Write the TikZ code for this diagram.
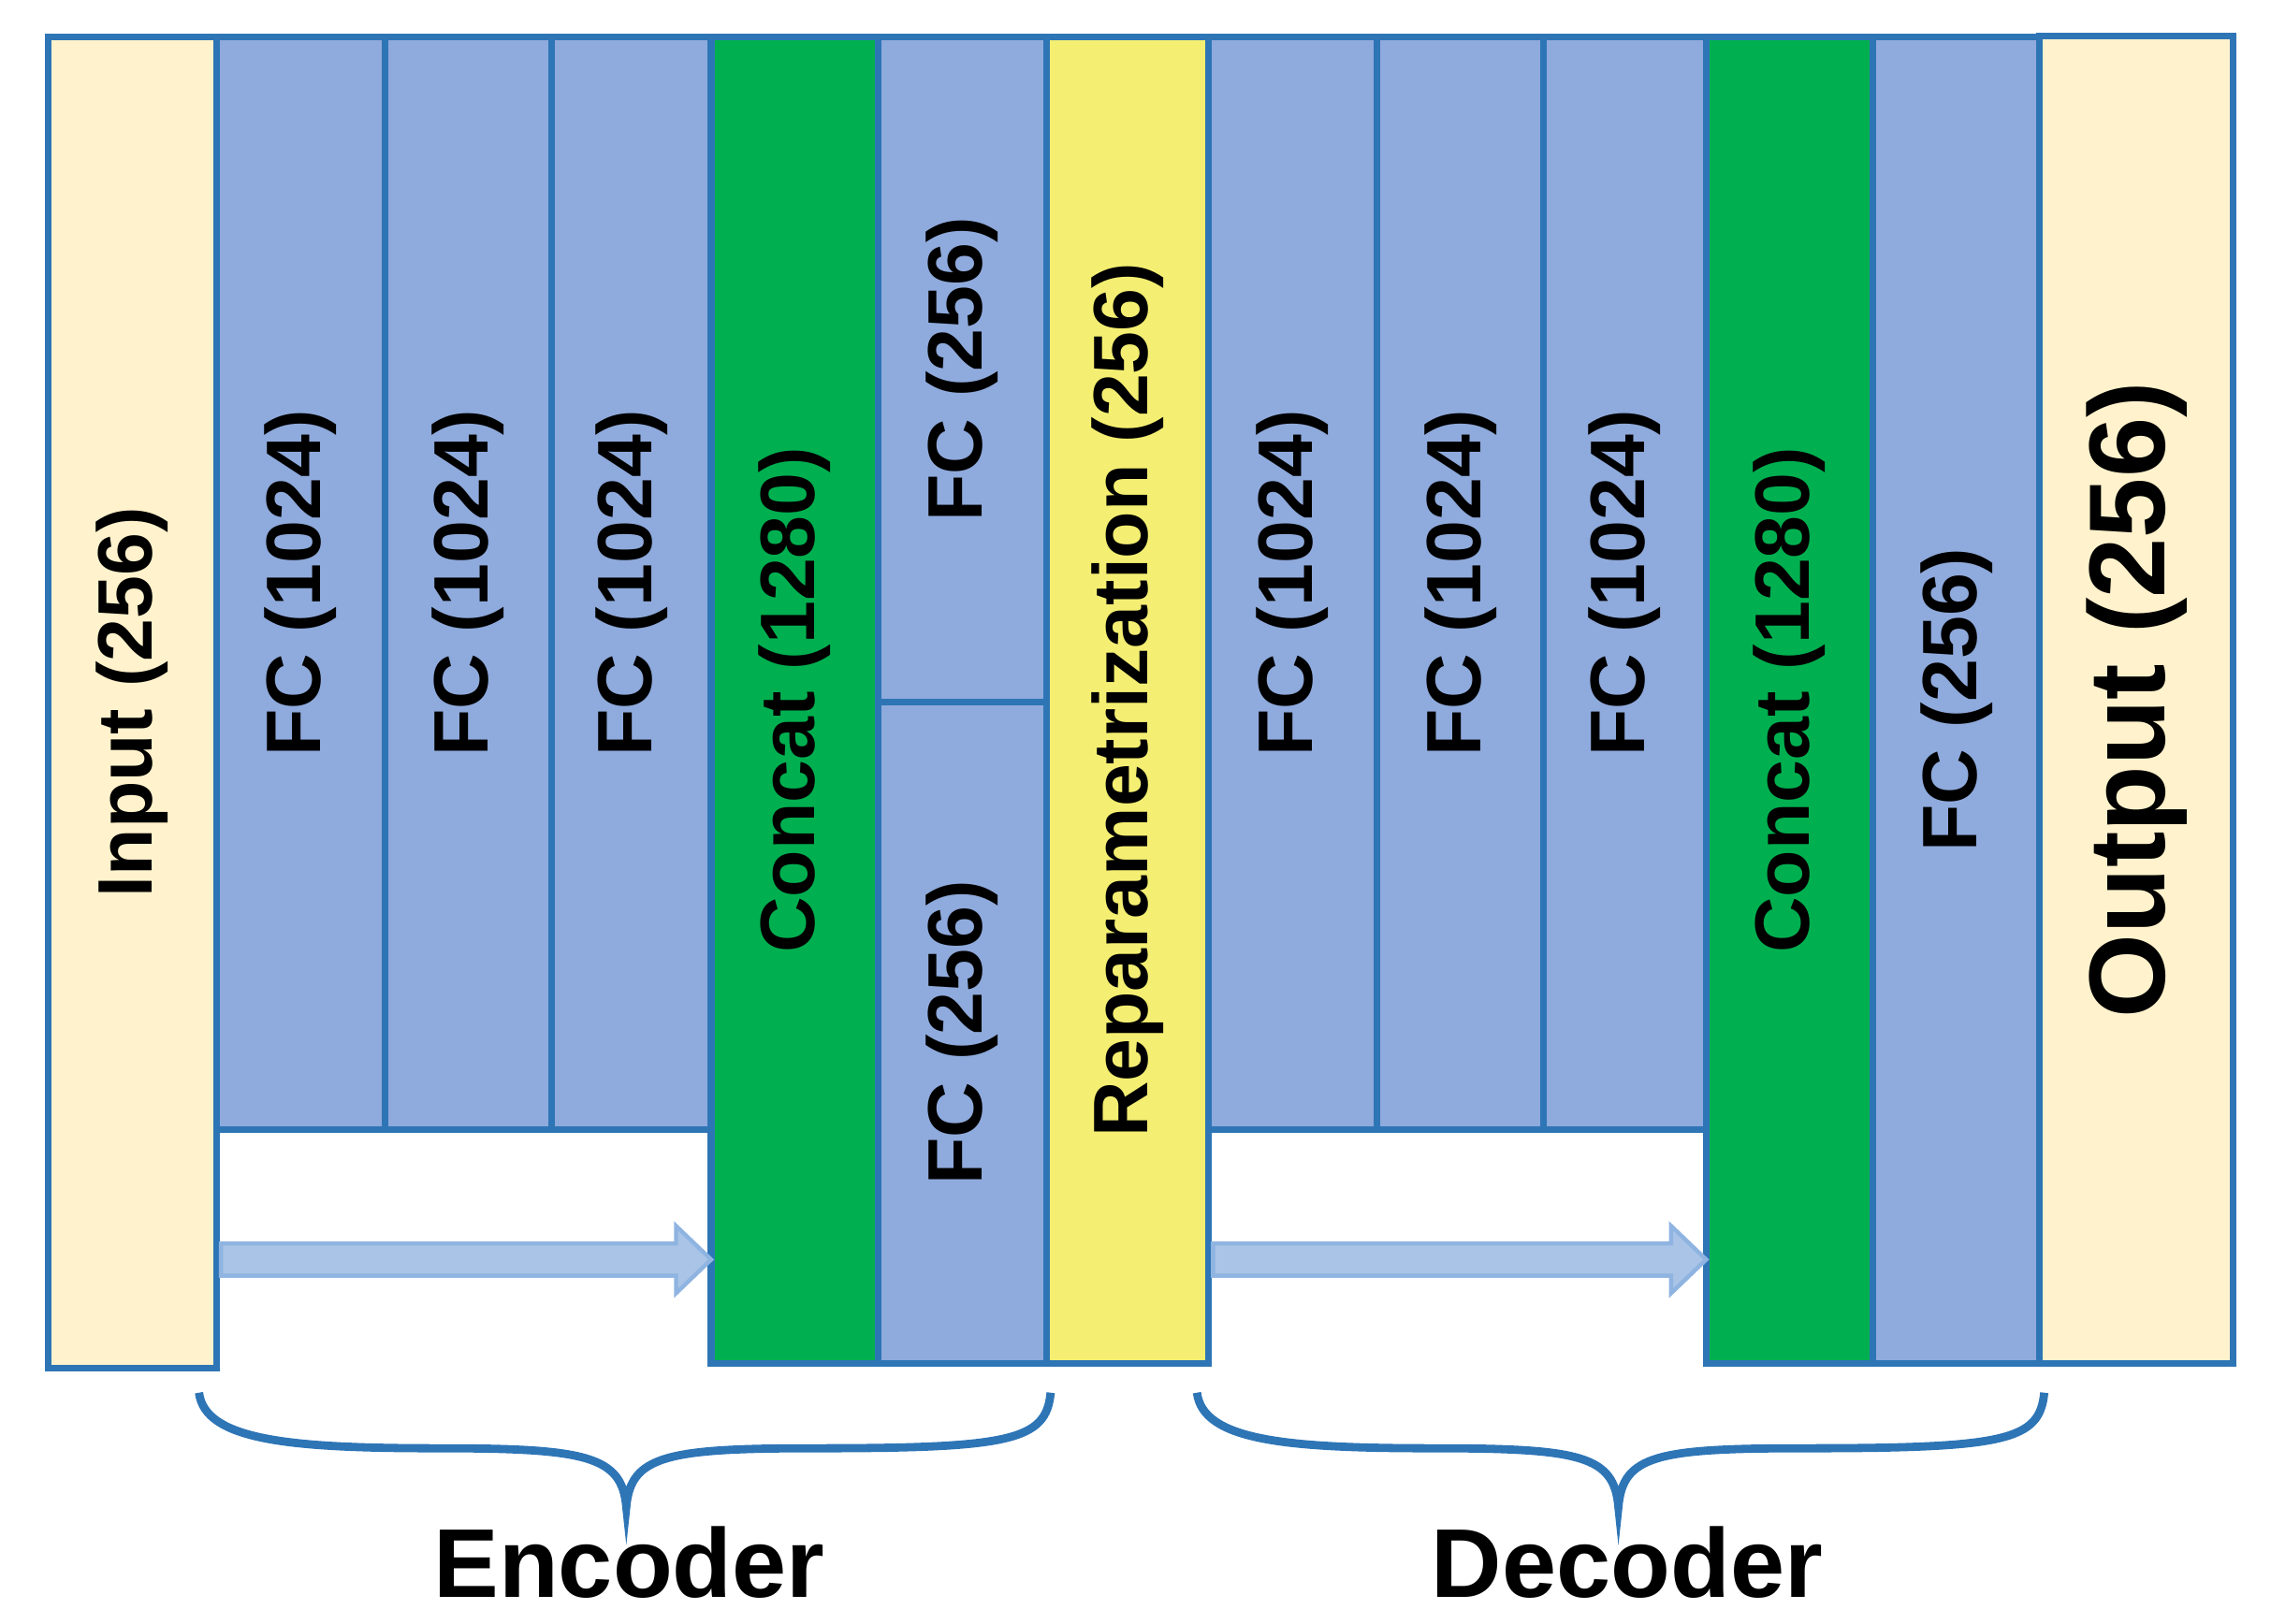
\documentclass[tikz,border=0pt]{standalone}
\usepackage{fontspec}
\setmainfont{Liberation Sans}
\begin{document}
\begin{tikzpicture}[x=0.01cm,y=-0.01cm,
  base/.style={draw=blue!45!black!60!cyan!70!black, draw={rgb,255:red,46;green,117;blue,182}, line width=1.3pt, inner sep=0pt, font=\bfseries\fontsize{15}{15}\selectfont},
  inp/.style={base, fill={rgb,255:red,255;green,242;blue,204}},
  fc/.style={base, fill={rgb,255:red,143;green,170;blue,220}},
  cat/.style={base, fill={rgb,255:red,0;green,176;blue,80}},
  rep/.style={base, fill={rgb,255:red,244;green,239;blue,114}},
  brace/.style={draw={rgb,255:red,46;green,117;blue,182}, line width=1.6pt},
  arr/.style={fill={rgb,255:red,169;green,196;blue,230}, draw={rgb,255:red,143;green,180;blue,225}, line width=0.8pt},
  lbl/.style={font=\bfseries\fontsize{19}{19}\selectfont}]
\useasboundingbox (0,0) rectangle (1552,1110);
\newcommand\blk[7]{\node[#6, minimum width={(#4-#2)*0.01cm}, minimum height={(#5-#3)*0.01cm}] (#1) at ({(#2+#4)/2},{(#3+#5)/2}) {\rotatebox{90}{#7}};}
\blk{in}{33}{25}{148}{935}{inp}{Input (256)}
\blk{f1}{148}{25}{263}{772}{fc}{FC (1024)}
\blk{f2}{263}{25}{377}{772}{fc}{FC (1024)}
\blk{f3}{377}{25}{486}{772}{fc}{FC (1024)}
\blk{c1}{486}{25}{600}{932}{cat}{Concat (1280)}
\blk{mu}{600}{25}{715}{480}{fc}{FC (256)}
\blk{sg}{600}{480}{715}{932}{fc}{FC (256)}
\blk{rp}{715}{25}{826}{932}{rep}{Reparametrization (256)}
\blk{f4}{826}{25}{941}{772}{fc}{FC (1024)}
\blk{f5}{941}{25}{1055}{772}{fc}{FC (1024)}
\blk{f6}{1055}{25}{1166}{772}{fc}{FC (1024)}
\blk{c2}{1166}{25}{1280}{932}{cat}{Concat (1280)}
\blk{f7}{1280}{25}{1394}{932}{fc}{FC (256)}
\node[inp, font=\bfseries\fontsize{21}{21}\selectfont, minimum width=1.32cm, minimum height=9.07cm] (out) at (1460,478.5) {\rotatebox{90}{Output (256)}};
% arrows
\draw[arr] (151,850) -- (462,850) -- (462,838) -- (486,861) -- (462,884) -- (462,872) -- (151,872) -- cycle;
\draw[arr] (829,850) -- (1142,850) -- (1142,838) -- (1166,861) -- (1142,884) -- (1142,872) -- (829,872) -- cycle;
% braces
\draw[brace] (136,952) .. controls (140,985) and (200,990) .. (300,990) .. controls (400,990) and (425,995) .. (428,1030)
  .. controls (431,995) and (456,990) .. (556,990) .. controls (690,990) and (715,985) .. (718,952);
\draw[brace] (818,952) .. controls (822,985) and (880,990) .. (980,990) .. controls (1080,990) and (1103,995) .. (1106,1030)
  .. controls (1109,995) and (1132,990) .. (1232,990) .. controls (1370,990) and (1394,985) .. (1397,952);
\node[lbl] (enc) at (430,1068) {Encoder};
\node[lbl] (dec) at (1112,1068) {Decoder};
\end{tikzpicture}
\end{document}
